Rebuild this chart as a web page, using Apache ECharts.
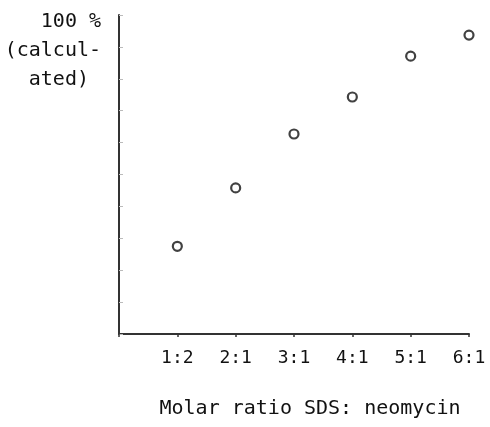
<!DOCTYPE html>
<html>
<head>
<meta charset="utf-8">
<script src="https://cdn.jsdelivr.net/npm/echarts@6/dist/echarts.min.js"></script>
<style>
  html, body { margin: 0; padding: 0; background: #fff; }
  #chart { width: 490px; height: 427px; }
</style>
</head>
<body>
<div id="chart"></div>
<script>
// molar ratio SDS : neomycin
const ratios = ["1:2", "2:1", "3:1", "4:1", "5:1", "6:1"];
// percent (calculated)
const percent = [27.5, 45.8, 62.7, 74.3, 87.1, 93.7];

// trailing space keeps "ated)" one column in from the right, like the original
const yName = "100 %\n(calcul-\nated) ";
const xName = "Molar ratio SDS: neomycin";

const font = "'DejaVu Sans Mono', 'Liberation Mono', monospace";
const ink = "#111";

const points = ratios.map((r, i) => [i + 1, percent[i]]);

const chart = echarts.init(document.getElementById("chart"));
chart.setOption({
  backgroundColor: "#fff",
  animation: false,
  grid: { left: 119, right: 21, top: 15, bottom: 93 },
  xAxis: {
    type: "value",
    min: 0,
    max: ratios.length,
    interval: 1,
    splitLine: { show: false },
    axisLine: { lineStyle: { color: "#333", width: 2 } },
    axisTick: { show: true, length: 3, lineStyle: { color: "#333", width: 1.5 } },
    axisLabel: {
      margin: 13,
      color: ink,
      fontFamily: font,
      fontSize: 18,
      lineHeight: 22,
      formatter: (v) => (v >= 1 ? ratios[v - 1] : "")
    },
    name: xName,
    nameLocation: "middle",
    nameGap: 75,
    nameTextStyle: {
      color: ink,
      fontFamily: font,
      fontSize: 20,
      verticalAlign: "middle",
      padding: [0, 0, 0, 32]
    }
  },
  yAxis: {
    type: "value",
    min: 0,
    max: 100,
    interval: 10,
    splitLine: { show: false },
    axisLine: { lineStyle: { color: "#333", width: 2 } },
    axisTick: { show: true, inside: true, length: 4, lineStyle: { color: "#bbb" } },
    axisLabel: { show: false },
    name: yName,
    nameLocation: "end",
    nameGap: 8,
    nameTextStyle: {
      color: ink,
      fontFamily: font,
      fontSize: 20,
      lineHeight: 29,
      align: "right",
      verticalAlign: "top",
      padding: [0, 18, 0, 0]
    }
  },
  series: [
    {
      type: "scatter",
      data: points,
      symbol: "circle",
      symbolSize: 9,
      itemStyle: { color: "#fff", borderColor: ink, borderWidth: 2.2 }
    }
  ]
});
</script>
</body>
</html>
